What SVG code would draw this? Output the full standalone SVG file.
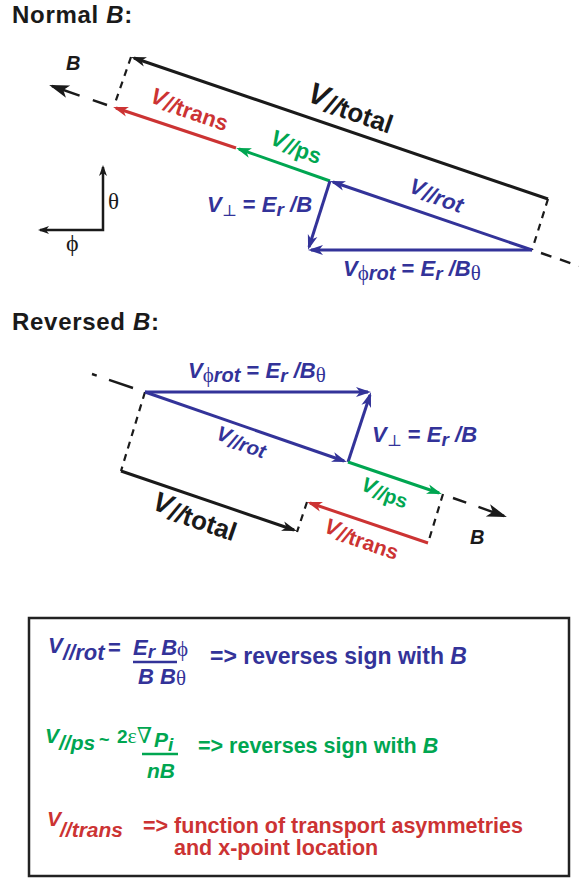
<svg xmlns="http://www.w3.org/2000/svg" width="579" height="879" viewBox="0 0 579 879">
<style>
.t{font-family:"Liberation Sans",Arial,Helvetica,sans-serif;font-weight:bold}
.i{font-style:italic}
.u{font-style:normal}
.s{font-family:"Liberation Serif","DejaVu Serif",serif;font-weight:normal;font-style:normal}
.cb{fill:#333399}.cr{fill:#cc3333}.cg{fill:#00a651}.ck{fill:#1a1a1a}
.lb{stroke:#333399;stroke-width:3;fill:none}
.lr{stroke:#cc3333;stroke-width:3;fill:none}
.lg{stroke:#00a651;stroke-width:3;fill:none}
.lk{stroke:#1a1a1a;stroke-width:3;fill:none}
.dot{stroke:#1a1a1a;stroke-width:2.2;fill:none;stroke-dasharray:7,6}
.dash{stroke:#1a1a1a;stroke-width:2.4;fill:none}
</style>
<defs>
<marker id="mb" markerUnits="userSpaceOnUse" markerWidth="16" markerHeight="10" refX="12" refY="5" orient="auto" overflow="visible"><path d="M0,0 L15,5 L0,10 L4,5 z" fill="#333399"/></marker>
<marker id="mr" markerUnits="userSpaceOnUse" markerWidth="16" markerHeight="10" refX="12" refY="5" orient="auto" overflow="visible"><path d="M0,0 L15,5 L0,10 L4,5 z" fill="#cc3333"/></marker>
<marker id="mg" markerUnits="userSpaceOnUse" markerWidth="16" markerHeight="10" refX="12" refY="5" orient="auto" overflow="visible"><path d="M0,0 L15,5 L0,10 L4,5 z" fill="#00a651"/></marker>
<marker id="mk" markerUnits="userSpaceOnUse" markerWidth="16" markerHeight="10" refX="12" refY="5" orient="auto" overflow="visible"><path d="M0,0 L15,5 L0,10 L4,5 z" fill="#1a1a1a"/></marker>
<marker id="mB" markerUnits="userSpaceOnUse" markerWidth="21" markerHeight="13" refX="17" refY="6.5" orient="auto" overflow="visible"><path d="M0,0 L20,6.5 L0,13 L5,6.5 z" fill="#1a1a1a"/></marker>
<marker id="ma" markerUnits="userSpaceOnUse" markerWidth="12" markerHeight="8" refX="9" refY="4" orient="auto-start-reverse" overflow="visible"><path d="M0,0 L11,4 L0,8 L3,4 z" fill="#1a1a1a"/></marker>
</defs>
<rect width="579" height="879" fill="#ffffff"/>

<g id="title-normal"><text class="t ck" x="12" y="23" font-size="24" letter-spacing="0.7">Normal <tspan class="i">B</tspan>:</text></g>
<g id="title-reversed"><text class="t ck" x="12" y="330" font-size="24" letter-spacing="0.7">Reversed <tspan class="i">B</tspan>:</text></g>

<g id="connectors">
  <!-- Normal B -->
  <path class="dash" d="M107,105 L52,86" stroke-dasharray="15,14,40" marker-end="url(#mB)"/>
  <path class="dash" d="M541,253 L579,266" stroke-dasharray="11,9"/>
  <path class="dot" d="M131,57 L114,106"/>
  <path class="dot" d="M548,199 L532,250"/>
  <line class="lk" x1="548" y1="199" x2="134" y2="58" marker-end="url(#mk)"/>
  <line class="lr" x1="236" y1="148" x2="116" y2="108" marker-end="url(#mr)"/>
  <line class="lg" x1="330" y1="181" x2="239" y2="149" marker-end="url(#mg)"/>
  <line class="lb" x1="532" y1="250" x2="333" y2="182" marker-end="url(#mb)"/>
  <line class="lb" x1="330" y1="181" x2="309" y2="247" marker-end="url(#mb)"/>
  <line class="lb" x1="532" y1="250" x2="311" y2="250" marker-end="url(#mb)"/>
  <!-- axes -->
  <path d="M103,167 L103,230 L40,230" stroke="#1a1a1a" stroke-width="2.5" fill="none" marker-start="url(#ma)" marker-end="url(#ma)"/>
  <!-- Reversed B -->
  <path class="dash" d="M92,374 L133,388" stroke-dasharray="5,13,30"/>
  <path class="dash" d="M453,498 L504,516" stroke-dasharray="14,13,40" marker-end="url(#mB)"/>
  <path class="dot" d="M145,392 L121,471"/>
  <path class="dot" d="M443,494 L428,543"/>
  <path class="dot" d="M307,502 L297,532"/>
  <line class="lb" x1="145" y1="392" x2="344" y2="461" marker-end="url(#mb)"/>
  <line class="lb" x1="145" y1="392" x2="368" y2="392" marker-end="url(#mb)"/>
  <line class="lb" x1="348" y1="462" x2="370" y2="395" marker-end="url(#mb)"/>
  <line class="lg" x1="348" y1="462" x2="439" y2="493" marker-end="url(#mg)"/>
  <line class="lr" x1="428" y1="543" x2="310" y2="503" marker-end="url(#mr)"/>
  <line class="lk" x1="121" y1="471" x2="294" y2="530" marker-end="url(#mk)"/>
</g>

<!-- Normal B labels -->
<g id="label-B-top"><text class="t i ck" x="66" y="70" font-size="20">B</text></g>
<g id="axis-theta"><text class="s ck" x="108" y="209" font-size="23">θ</text></g>
<g id="axis-phi"><text class="s ck" x="66" y="251" font-size="24">ϕ</text></g>
<g id="label-vtotal-top"><text class="t ck" transform="translate(306,101) rotate(19)" font-size="30"><tspan class="i">V</tspan><tspan font-size="26" dy="4"><tspan class="i">//</tspan>total</tspan></text></g>
<g id="label-vtrans-top"><text class="t cr" transform="translate(149,102) rotate(19)" font-size="23"><tspan class="i">V</tspan><tspan font-size="22" dy="3"><tspan class="i">//</tspan>trans</tspan></text></g>
<g id="label-vps-top"><text class="t cg" transform="translate(269,144) rotate(19)" font-size="23"><tspan class="i">V</tspan><tspan font-size="22" dy="3"><tspan class="i">//</tspan>ps</tspan></text></g>
<g id="label-vrot-top"><text class="t i cb" transform="translate(408,192) rotate(19)" font-size="22">V<tspan font-size="22" dy="3">//rot</tspan></text></g>
<g id="label-vperp-top"><text class="t cb" x="207" y="212" font-size="22"><tspan class="i">V</tspan><tspan class="s" font-size="16" dy="4">⊥</tspan><tspan dy="-4"> = </tspan><tspan class="i">E</tspan><tspan class="i" font-size="19" dy="4">r</tspan><tspan class="i" dy="-4"> /B</tspan></text></g>
<g id="label-vphi-top"><text class="t cb" x="343" y="276" font-size="22"><tspan class="i">V</tspan><tspan class="s" font-size="21" dy="4">ϕ</tspan><tspan class="i" font-size="20">rot</tspan><tspan dy="-4"> = </tspan><tspan class="i">E</tspan><tspan class="i" font-size="19" dy="4">r</tspan><tspan class="i" dy="-4"> /B</tspan><tspan class="s" font-size="21" dy="4">θ</tspan></text></g>

<!-- Reversed B labels -->
<g id="label-vphi-bot"><text class="t cb" x="188" y="378" font-size="22"><tspan class="i">V</tspan><tspan class="s" font-size="21" dy="4">ϕ</tspan><tspan class="i" font-size="20">rot</tspan><tspan dy="-4"> = </tspan><tspan class="i">E</tspan><tspan class="i" font-size="19" dy="4">r</tspan><tspan class="i" dy="-4"> /B</tspan><tspan class="s" font-size="21" dy="4">θ</tspan></text></g>
<g id="label-vrot-bot"><text class="t i cb" transform="translate(215,439) rotate(19)" font-size="21">V<tspan font-size="20" dy="3">//rot</tspan></text></g>
<g id="label-vperp-bot"><text class="t cb" x="372" y="442" font-size="22"><tspan class="i">V</tspan><tspan class="s" font-size="16" dy="4">⊥</tspan><tspan dy="-4"> = </tspan><tspan class="i">E</tspan><tspan class="i" font-size="19" dy="4">r</tspan><tspan class="i" dy="-4"> /B</tspan></text></g>
<g id="label-vps-bot"><text class="t cg" transform="translate(360,490) rotate(19)" font-size="21"><tspan class="i">V</tspan><tspan font-size="20" dy="3"><tspan class="i">//</tspan>ps</tspan></text></g>
<g id="label-vtotal-bot"><text class="t ck" transform="translate(151,509) rotate(19)" font-size="28"><tspan class="i">V</tspan><tspan font-size="26" dy="4"><tspan class="i">//</tspan>total</tspan></text></g>
<g id="label-vtrans-bot"><text class="t cr" transform="translate(323,532) rotate(19)" font-size="22"><tspan class="i">V</tspan><tspan font-size="21" dy="3"><tspan class="i">//</tspan>trans</tspan></text></g>
<g id="label-B-bot"><text class="t i ck" x="470" y="544" font-size="20">B</text></g>

<!-- Legend box -->
<g id="legend">
  <rect x="29" y="618" width="540" height="258" fill="none" stroke="#222222" stroke-width="2.5"/>
  <g id="legend-rot">
    <text class="t i cb" x="48" y="653" font-size="22">V</text>
    <text class="t i cb" x="63" y="660" font-size="22">//rot</text>
    <text class="t cb" x="108" y="655" font-size="22">=</text>
    <text class="t i cb" x="133" y="655" font-size="22">E<tspan font-size="19" dy="3">r</tspan><tspan dy="-3"> B</tspan><tspan class="s" font-size="21" dy="1">ϕ</tspan></text>
    <line x1="133" y1="662" x2="177" y2="662" stroke="#333399" stroke-width="2.5"/>
    <text class="t i cb" x="138" y="684" font-size="22">B B<tspan class="s" font-size="21" dy="1">θ</tspan></text>
    <text class="t cb" x="210" y="664" font-size="23">=&gt; reverses sign with <tspan class="i">B</tspan></text>
  </g>
  <g id="legend-ps">
    <text class="t i cg" x="45" y="743" font-size="21">V</text>
    <text class="t i cg" x="59" y="750" font-size="21">//ps</text>
    <text class="t cg" x="99" y="746" font-size="18">~</text>
    <text class="t cg" x="117" y="743" font-size="19">2<tspan class="s" font-size="22">ε∇</tspan></text>
    <text class="t i cg" x="154" y="747" font-size="21">P<tspan font-size="19" dy="4">i</tspan></text>
    <line x1="142" y1="754" x2="178" y2="754" stroke="#00a651" stroke-width="2.5"/>
    <text class="t i cg" x="147" y="778" font-size="21">nB</text>
    <text class="t cg" x="198" y="753" font-size="21.5">=&gt; reverses sign with <tspan class="i">B</tspan></text>
  </g>
  <g id="legend-trans">
    <text class="t i cr" x="47" y="826" font-size="21">V</text>
    <text class="t i cr" x="60" y="837" font-size="21">//trans</text>
    <text class="t cr" x="143" y="833" font-size="21.5">=&gt; function of transport asymmetries</text>
    <text class="t cr" x="174" y="855" font-size="21.5">and x-point location</text>
  </g>
</g>
</svg>
